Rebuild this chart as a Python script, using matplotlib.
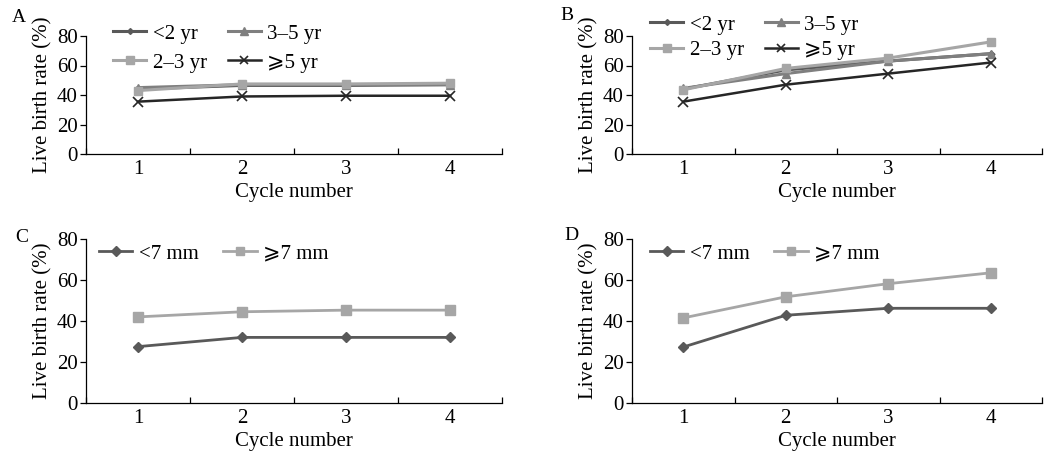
import matplotlib
matplotlib.use("Agg")
import matplotlib.pyplot as plt
from matplotlib.ticker import FixedLocator

plt.rcParams["font.family"] = ["Liberation Serif", "DejaVu Serif", "DejaVu Sans"]

# -------------------------
# Data
# -------------------------
cycles = [1, 2, 3, 4]

age_labels = ["<2 yr", "2–3 yr", "3–5 yr", "⩾5 yr"]
a_lt2 = [44, 46.5, 46.5, 47]
a_2to3 = [43, 47.5, 47.5, 48]
a_3to5 = [45, 47, 47, 47]
a_ge5 = [35.5, 39, 39.5, 39.5]

b_lt2 = [44, 57, 63, 68]
b_2to3 = [43.5, 58, 65, 76]
b_3to5 = [44.5, 54.5, 63, 68]
b_ge5 = [35.5, 47, 54.5, 62]

thick_labels = ["<7 mm", "⩾7 mm"]
c_lt7 = [27.5, 32, 32, 32]
c_ge7 = [42, 44.5, 45.3, 45.3]

d_lt7 = [27.3, 42.8, 46.2, 46.2]
d_ge7 = [41.5, 51.8, 58.2, 63.5]

# -------------------------
# Styles
# -------------------------
age_styles = [
    dict(color="#595959", marker="D", ms=3.5, lw=2.2),
    dict(color="#a6a6a6", marker="s", ms=6, lw=2.2),
    dict(color="#7f7f7f", marker="^", ms=6, lw=2.2),
    dict(color="#262626", marker="x", ms=7, mew=1.2, lw=1.8),
]
thick_styles = [
    dict(color="#595959", marker="D", ms=5.5, lw=2.0),
    dict(color="#a6a6a6", marker="s", ms=6.5, lw=2.0),
]

TICK_FS = 15
LABEL_FS = 15
LEG_FS = 15

W, H = 1044, 457
fig = plt.figure(figsize=(W / 100, H / 100), dpi=100)


def make_axes(left, right, top, bottom):
    return fig.add_axes([left / W, 1 - bottom / H, (right - left) / W, (bottom - top) / H])


def style_axes(ax):
    ax.set_xlim(0.5, 4.5)
    ax.set_ylim(0, 80)
    ax.set_yticks([0, 20, 40, 60, 80])
    ax.set_xticks(cycles)
    ax.xaxis.set_minor_locator(FixedLocator([0.5, 1.5, 2.5, 3.5, 4.5]))
    ax.tick_params(axis="x", which="major", length=0, pad=4, labelsize=TICK_FS)
    ax.tick_params(axis="x", which="minor", direction="in", length=4, width=0.9)
    ax.tick_params(axis="y", direction="out", length=4, width=0.9, pad=2, labelsize=TICK_FS)
    for s in ["top", "right"]:
        ax.spines[s].set_visible(False)
    for s in ["left", "bottom"]:
        ax.spines[s].set_linewidth(0.9)
    ax.set_xlabel("Cycle number", fontsize=LABEL_FS, labelpad=3)
    ax.set_ylabel("Live birth rate (%)", fontsize=LABEL_FS, labelpad=3)
    ax.set_facecolor("none")


def add_legend(ax, handles, labels, x, y, colsp, labsp):
    ax.legend(
        handles, labels, ncol=2, loc="upper left",
        bbox_to_anchor=(x / W, 1 - y / H), bbox_transform=fig.transFigure,
        frameon=False, borderpad=0, borderaxespad=0,
        handlelength=1.6, handletextpad=0.3, columnspacing=colsp, labelspacing=labsp,
        fontsize=LEG_FS, markerscale=0.85,
    )


# =========================================================
# Panels A and B (infertility duration)
# =========================================================
panels_top = [
    ("A", make_axes(86, 502, 36, 154), [a_lt2, a_2to3, a_3to5, a_ge5], (12, 18), (113, 24), 1.0, 0.45),
    ("B", make_axes(632, 1042, 36, 154), [b_lt2, b_2to3, b_3to5, b_ge5], (560, 16), (650, 15), 1.0, 0.3),
]
order = [0, 2, 1, 3]
for tag, ax, series, tpos, lpos, colsp, labsp in panels_top:
    style_axes(ax)
    handles = [None] * 4
    for i in order:
        (h,) = ax.plot(cycles, series[i], label=age_labels[i], clip_on=False, **age_styles[i])
        handles[i] = h
    add_legend(ax, handles, age_labels, lpos[0], lpos[1], colsp, labsp)
    fig.text(tpos[0] / W, 1 - tpos[1] / H, tag, fontsize=14, ha="left", va="center")

# =========================================================
# Panels C and D (endometrial thickness)
# =========================================================
panels_bottom = [
    ("C", make_axes(86, 502, 239, 403), [c_lt7, c_ge7], (15, 237), (99, 244), 1.2),
    ("D", make_axes(632, 1042, 239, 403), [d_lt7, d_ge7], (564, 236), (650, 244), 1.2),
]
for tag, ax, series, tpos, lpos, colsp in panels_bottom:
    style_axes(ax)
    handles = []
    for i in range(2):
        (h,) = ax.plot(cycles, series[i], label=thick_labels[i], clip_on=False, **thick_styles[i])
        handles.append(h)
    add_legend(ax, handles, thick_labels, lpos[0], lpos[1], colsp, 0.0)
    fig.text(tpos[0] / W, 1 - tpos[1] / H, tag, fontsize=14, ha="left", va="center")

fig.savefig("out.png", dpi=100)
